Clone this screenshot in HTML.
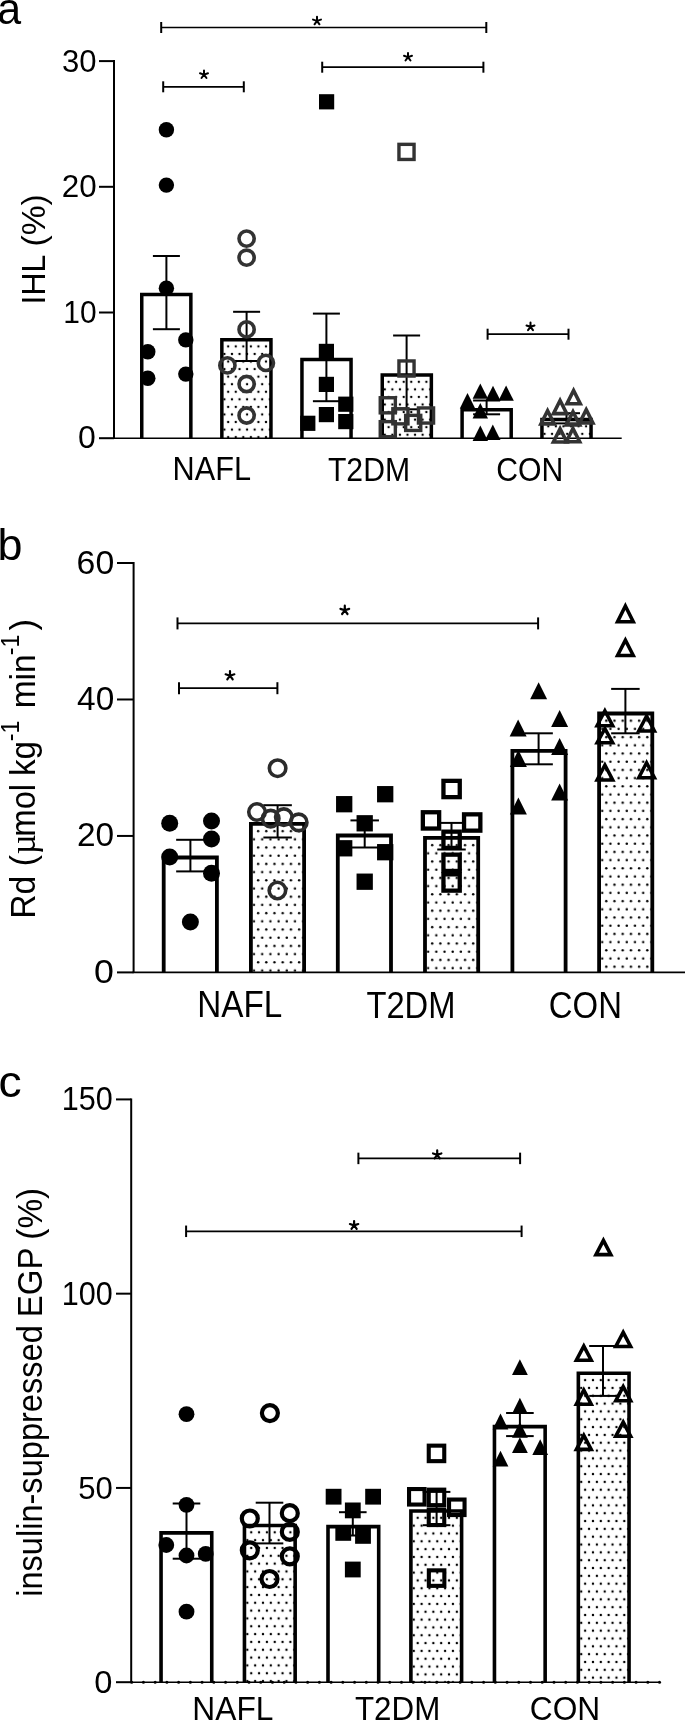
<!DOCTYPE html>
<html><head><meta charset="utf-8"><title>Figure</title>
<style>html,body{margin:0;padding:0;background:#fff;width:685px;height:1722px;overflow:hidden}
text{font-family:'Liberation Sans', sans-serif}</style></head>
<body><svg width="685" height="1722" viewBox="0 0 685 1722" style="display:block;will-change:transform;font-family:'Liberation Sans', sans-serif;fill:#000"><defs><pattern id="p1" patternUnits="userSpaceOnUse" x="226.31" y="342.62" width="7.56" height="15.12"><circle cx="1.89" cy="3.78" r="1.2" fill="#000"/><circle cx="5.67" cy="11.34" r="1.2" fill="#000"/></pattern><pattern id="p2" patternUnits="userSpaceOnUse" x="386.71" y="378.02" width="7.56" height="15.12"><circle cx="1.89" cy="3.78" r="1.2" fill="#000"/><circle cx="5.67" cy="11.34" r="1.2" fill="#000"/></pattern><pattern id="p3" patternUnits="userSpaceOnUse" x="546.41" y="422.52" width="7.56" height="15.12"><circle cx="1.89" cy="3.78" r="1.2" fill="#000"/><circle cx="5.67" cy="11.34" r="1.2" fill="#000"/></pattern><pattern id="p4" patternUnits="userSpaceOnUse" x="256.05" y="827" width="8.2" height="16.4"><circle cx="2.05" cy="4.1" r="1.2" fill="#000"/><circle cx="6.15" cy="12.3" r="1.2" fill="#000"/></pattern><pattern id="p5" patternUnits="userSpaceOnUse" x="430.15" y="841" width="8.2" height="16.4"><circle cx="2.05" cy="4.1" r="1.2" fill="#000"/><circle cx="6.15" cy="12.3" r="1.2" fill="#000"/></pattern><pattern id="p6" patternUnits="userSpaceOnUse" x="604.25" y="716.6" width="8.2" height="16.4"><circle cx="2.05" cy="4.1" r="1.2" fill="#000"/><circle cx="6.15" cy="12.3" r="1.2" fill="#000"/></pattern><pattern id="p7" patternUnits="userSpaceOnUse" x="249.29" y="1528.38" width="7.83" height="15.66"><circle cx="1.96" cy="3.92" r="1.2" fill="#000"/><circle cx="5.87" cy="11.75" r="1.2" fill="#000"/></pattern><pattern id="p8" patternUnits="userSpaceOnUse" x="415.74" y="1513.88" width="7.83" height="15.66"><circle cx="1.96" cy="3.92" r="1.2" fill="#000"/><circle cx="5.87" cy="11.75" r="1.2" fill="#000"/></pattern><pattern id="p9" patternUnits="userSpaceOnUse" x="583.19" y="1376.18" width="7.83" height="15.66"><circle cx="1.96" cy="3.92" r="1.2" fill="#000"/><circle cx="5.87" cy="11.75" r="1.2" fill="#000"/></pattern></defs><line x1="114" y1="60.1" x2="114" y2="438.2" stroke="#000" stroke-width="2"/>
<line x1="113" y1="438.2" x2="621.7" y2="438.2" stroke="#000" stroke-width="1.6"/>
<line x1="99" y1="438.2" x2="114" y2="438.2" stroke="#000" stroke-width="2"/>
<line x1="99" y1="312.5" x2="114" y2="312.5" stroke="#000" stroke-width="2"/>
<line x1="99" y1="186.8" x2="114" y2="186.8" stroke="#000" stroke-width="2"/>
<line x1="99" y1="61.1" x2="114" y2="61.1" stroke="#000" stroke-width="2"/>
<text transform="translate(62.06 72.08) scale(0.9760 1)" font-size="31.83" >30</text>
<text transform="translate(61.73 197.19) scale(1.0034 1)" font-size="31.27" >20</text>
<text transform="translate(63.25 322.89) scale(0.9666 1)" font-size="30.99" >10</text>
<text transform="translate(78.12 448.29) scale(1.0234 1)" font-size="31.27" >0</text>
<path d="M141.75 438.2V294.45H190.85V438.2" fill="none" stroke="#000" stroke-width="3.5" stroke-linejoin="miter" stroke-linecap="butt"/>
<rect x="221.85" y="339.65" width="49.1" height="98.55" fill="url(#p1)"/>
<path d="M221.85 438.2V339.65H270.95V438.2" fill="none" stroke="#000" stroke-width="3.5" stroke-linejoin="miter" stroke-linecap="butt"/>
<path d="M301.95 438.2V359.55H351.05V438.2" fill="none" stroke="#000" stroke-width="3.5" stroke-linejoin="miter" stroke-linecap="butt"/>
<rect x="382.25" y="375.05" width="49.1" height="63.15" fill="url(#p2)"/>
<path d="M382.25 438.2V375.05H431.35V438.2" fill="none" stroke="#000" stroke-width="3.5" stroke-linejoin="miter" stroke-linecap="butt"/>
<path d="M462.1 438.2V409.65H511.2V438.2" fill="none" stroke="#000" stroke-width="3.5" stroke-linejoin="miter" stroke-linecap="butt"/>
<rect x="541.95" y="419.55" width="49.1" height="18.65" fill="url(#p3)"/>
<path d="M541.95 438.2V419.55H591.05V438.2" fill="none" stroke="#000" stroke-width="3.5" stroke-linejoin="miter" stroke-linecap="butt"/>
<line x1="166.4" y1="256" x2="166.4" y2="329.2" stroke="#000" stroke-width="2"/>
<line x1="152.9" y1="256" x2="179.9" y2="256" stroke="#000" stroke-width="2"/>
<line x1="152.9" y1="329.2" x2="179.9" y2="329.2" stroke="#000" stroke-width="2"/>
<line x1="246.6" y1="311.8" x2="246.6" y2="361" stroke="#000" stroke-width="2"/>
<line x1="233.1" y1="311.8" x2="260.1" y2="311.8" stroke="#000" stroke-width="2"/>
<line x1="233.1" y1="361" x2="260.1" y2="361" stroke="#000" stroke-width="2"/>
<line x1="326.4" y1="313.6" x2="326.4" y2="401.2" stroke="#000" stroke-width="2"/>
<line x1="312.9" y1="313.6" x2="339.9" y2="313.6" stroke="#000" stroke-width="2"/>
<line x1="312.9" y1="401.2" x2="339.9" y2="401.2" stroke="#000" stroke-width="2"/>
<line x1="406.6" y1="335.5" x2="406.6" y2="409.3" stroke="#000" stroke-width="2"/>
<line x1="393.1" y1="335.5" x2="420.1" y2="335.5" stroke="#000" stroke-width="2"/>
<line x1="393.1" y1="409.3" x2="420.1" y2="409.3" stroke="#000" stroke-width="2"/>
<line x1="486.6" y1="400.5" x2="486.6" y2="414.3" stroke="#000" stroke-width="2"/>
<line x1="473.1" y1="400.5" x2="500.1" y2="400.5" stroke="#000" stroke-width="2"/>
<line x1="473.1" y1="414.3" x2="500.1" y2="414.3" stroke="#000" stroke-width="2"/>
<line x1="566.5" y1="413.2" x2="566.5" y2="423.4" stroke="#000" stroke-width="2"/>
<line x1="553" y1="413.2" x2="580" y2="413.2" stroke="#000" stroke-width="2"/>
<line x1="553" y1="423.4" x2="580" y2="423.4" stroke="#000" stroke-width="2"/>
<circle cx="166.4" cy="129.8" r="7.7" fill="#000"/>
<circle cx="166.4" cy="185.1" r="7.7" fill="#000"/>
<circle cx="166.4" cy="288.2" r="7.7" fill="#000"/>
<circle cx="185.8" cy="339.9" r="7.7" fill="#000"/>
<circle cx="147.8" cy="351.8" r="7.7" fill="#000"/>
<circle cx="185.8" cy="374.1" r="7.7" fill="#000"/>
<circle cx="147.8" cy="378.3" r="7.7" fill="#000"/>
<circle cx="246.6" cy="238.6" r="7.6" fill="none" stroke="#333" stroke-width="3.6"/>
<circle cx="246.6" cy="257.7" r="7.6" fill="none" stroke="#333" stroke-width="3.6"/>
<circle cx="246.6" cy="329.4" r="7.6" fill="none" stroke="#333" stroke-width="3.6"/>
<circle cx="227.4" cy="365.4" r="7.6" fill="none" stroke="#333" stroke-width="3.6"/>
<circle cx="265.9" cy="362.9" r="7.6" fill="none" stroke="#333" stroke-width="3.6"/>
<circle cx="246.6" cy="384" r="7.6" fill="none" stroke="#333" stroke-width="3.6"/>
<circle cx="246.6" cy="415.5" r="7.6" fill="none" stroke="#333" stroke-width="3.6"/>
<rect x="319" y="94.2" width="15.2" height="15.2" fill="#000"/>
<rect x="318.8" y="343.8" width="15.2" height="15.2" fill="#000"/>
<rect x="318.8" y="376.8" width="15.2" height="15.2" fill="#000"/>
<rect x="338.2" y="396.6" width="15.2" height="15.2" fill="#000"/>
<rect x="318.8" y="407" width="15.2" height="15.2" fill="#000"/>
<rect x="338.2" y="414" width="15.2" height="15.2" fill="#000"/>
<rect x="300.2" y="415.7" width="15.2" height="15.2" fill="#000"/>
<rect x="398.95" y="144.35" width="15.1" height="15.1" fill="none" stroke="#333" stroke-width="3.4"/>
<rect x="398.95" y="360.95" width="15.1" height="15.1" fill="none" stroke="#333" stroke-width="3.4"/>
<rect x="380.25" y="397.75" width="15.1" height="15.1" fill="none" stroke="#333" stroke-width="3.4"/>
<rect x="392.85" y="408.75" width="15.1" height="15.1" fill="none" stroke="#333" stroke-width="3.4"/>
<rect x="405.65" y="415.35" width="15.1" height="15.1" fill="none" stroke="#333" stroke-width="3.4"/>
<rect x="418.45" y="407.95" width="15.1" height="15.1" fill="none" stroke="#333" stroke-width="3.4"/>
<rect x="380.25" y="421.65" width="15.1" height="15.1" fill="none" stroke="#333" stroke-width="3.4"/>
<path d="M480.3 383.4L488 398.8H472.6Z" fill="#000"/>
<path d="M493 385.65L500.7 401.05H485.3Z" fill="#000"/>
<path d="M506.1 385.4L513.8 400.8H498.4Z" fill="#000"/>
<path d="M467.5 393.1L475.2 408.5H459.8Z" fill="#000"/>
<path d="M480.3 403.05L488 418.45H472.6Z" fill="#000"/>
<path d="M480.3 425.5L488 440.9H472.6Z" fill="#000"/>
<path d="M492.8 424.5L500.5 439.9H485.1Z" fill="#000"/>
<path d="M573.6 390.49L580.27 403.7L566.93 403.7Z" fill="none" stroke="#333" stroke-width="3.6" stroke-linejoin="miter" stroke-miterlimit="10"/>
<path d="M560.1 400.44L566.77 413.65L553.43 413.65Z" fill="none" stroke="#333" stroke-width="3.6" stroke-linejoin="miter" stroke-miterlimit="10"/>
<path d="M547.6 410.69L554.27 423.9L540.93 423.9Z" fill="none" stroke="#333" stroke-width="3.6" stroke-linejoin="miter" stroke-miterlimit="10"/>
<path d="M573 411.69L579.67 424.9L566.33 424.9Z" fill="none" stroke="#333" stroke-width="3.6" stroke-linejoin="miter" stroke-miterlimit="10"/>
<path d="M586.2 409.64L592.87 422.85L579.53 422.85Z" fill="none" stroke="#333" stroke-width="3.6" stroke-linejoin="miter" stroke-miterlimit="10"/>
<path d="M560.1 428.79L566.77 442L553.43 442Z" fill="none" stroke="#333" stroke-width="3.6" stroke-linejoin="miter" stroke-miterlimit="10"/>
<path d="M573 428.54L579.67 441.75L566.33 441.75Z" fill="none" stroke="#333" stroke-width="3.6" stroke-linejoin="miter" stroke-miterlimit="10"/>
<line x1="161.2" y1="27.5" x2="486.3" y2="27.5" stroke="#000" stroke-width="1.7"/>
<line x1="161.2" y1="22" x2="161.2" y2="33" stroke="#000" stroke-width="2"/>
<line x1="486.3" y1="22" x2="486.3" y2="33" stroke="#000" stroke-width="2"/>
<path d="M317 20.9L317 16.7M317 20.9L320.99 19.6M317 20.9L319.47 24.3M317 20.9L314.53 24.3M317 20.9L313.01 19.6" stroke="#000" stroke-width="2" stroke-linecap="round" fill="none"/>
<line x1="163.2" y1="86.8" x2="243.8" y2="86.8" stroke="#000" stroke-width="1.7"/>
<line x1="163.2" y1="81.3" x2="163.2" y2="92.3" stroke="#000" stroke-width="2"/>
<line x1="243.8" y1="81.3" x2="243.8" y2="92.3" stroke="#000" stroke-width="2"/>
<path d="M204 74.6L204 70.4M204 74.6L207.99 73.3M204 74.6L206.47 78M204 74.6L201.53 78M204 74.6L200.01 73.3" stroke="#000" stroke-width="2" stroke-linecap="round" fill="none"/>
<line x1="322.2" y1="67.2" x2="483.4" y2="67.2" stroke="#000" stroke-width="1.7"/>
<line x1="322.2" y1="61.7" x2="322.2" y2="72.7" stroke="#000" stroke-width="2"/>
<line x1="483.4" y1="61.7" x2="483.4" y2="72.7" stroke="#000" stroke-width="2"/>
<path d="M408 57.1L408 52.9M408 57.1L411.99 55.8M408 57.1L410.47 60.5M408 57.1L405.53 60.5M408 57.1L404.01 55.8" stroke="#000" stroke-width="2" stroke-linecap="round" fill="none"/>
<line x1="487.6" y1="334.2" x2="568.5" y2="334.2" stroke="#000" stroke-width="1.7"/>
<line x1="487.6" y1="328.7" x2="487.6" y2="339.7" stroke="#000" stroke-width="2"/>
<line x1="568.5" y1="328.7" x2="568.5" y2="339.7" stroke="#000" stroke-width="2"/>
<path d="M530.5 326.8L530.5 322.6M530.5 326.8L534.49 325.5M530.5 326.8L532.97 330.2M530.5 326.8L528.03 330.2M530.5 326.8L526.51 325.5" stroke="#000" stroke-width="2" stroke-linecap="round" fill="none"/>
<text transform="translate(-2.73 23.67) scale(0.9872 1)" font-size="43.5" >a</text>
<text transform="translate(172.54 480) scale(0.9142 1)" font-size="33.6" >NAFL</text>
<text transform="translate(327.9 480.5) scale(0.8985 1)" font-size="33.6" >T2DM</text>
<text transform="translate(496.19 481.06) scale(0.8986 1)" font-size="33.6" >CON</text>
<text transform="translate(45.2 304.38) rotate(-90) scale(0.9520 1)" font-size="33.6" >IHL</text>
<text transform="translate(45.2 246.52) rotate(-90) scale(1.0011 1)" font-size="33.6" >(%)</text>
<line x1="133.6" y1="562.02" x2="133.6" y2="972.4" stroke="#000" stroke-width="2"/>
<line x1="132.6" y1="972.4" x2="685" y2="972.4" stroke="#000" stroke-width="1.6"/>
<line x1="117" y1="972.4" x2="133.6" y2="972.4" stroke="#000" stroke-width="2"/>
<line x1="117" y1="835.94" x2="133.6" y2="835.94" stroke="#000" stroke-width="2"/>
<line x1="117" y1="699.48" x2="133.6" y2="699.48" stroke="#000" stroke-width="2"/>
<line x1="117" y1="563.02" x2="133.6" y2="563.02" stroke="#000" stroke-width="2"/>
<text transform="translate(76.61 573.76) scale(1.0090 1)" font-size="33.52" >60</text>
<text transform="translate(77.07 710.27) scale(1.0133 1)" font-size="32.96" >40</text>
<text transform="translate(76.93 846.27) scale(1.0144 1)" font-size="32.96" >20</text>
<text transform="translate(94.07 983.27) scale(1.0767 1)" font-size="33.24" >0</text>
<path d="M163.7 972.4V857.5H216.9V972.4" fill="none" stroke="#000" stroke-width="3.8" stroke-linejoin="miter" stroke-linecap="butt"/>
<rect x="250.9" y="823.9" width="53.2" height="148.5" fill="url(#p4)"/>
<path d="M250.9 972.4V823.9H304.1V972.4" fill="none" stroke="#000" stroke-width="3.8" stroke-linejoin="miter" stroke-linecap="butt"/>
<path d="M337.8 972.4V835.5H391V972.4" fill="none" stroke="#000" stroke-width="3.8" stroke-linejoin="miter" stroke-linecap="butt"/>
<rect x="425" y="837.9" width="53.2" height="134.5" fill="url(#p5)"/>
<path d="M425 972.4V837.9H478.2V972.4" fill="none" stroke="#000" stroke-width="3.8" stroke-linejoin="miter" stroke-linecap="butt"/>
<path d="M512.4 972.4V750.9H565.6V972.4" fill="none" stroke="#000" stroke-width="3.8" stroke-linejoin="miter" stroke-linecap="butt"/>
<rect x="599.1" y="713.5" width="53.2" height="258.9" fill="url(#p6)"/>
<path d="M599.1 972.4V713.5H652.3V972.4" fill="none" stroke="#000" stroke-width="3.8" stroke-linejoin="miter" stroke-linecap="butt"/>
<line x1="190.4" y1="839.8" x2="190.4" y2="871.4" stroke="#000" stroke-width="2"/>
<line x1="176.15" y1="839.8" x2="204.65" y2="839.8" stroke="#000" stroke-width="2"/>
<line x1="176.15" y1="871.4" x2="204.65" y2="871.4" stroke="#000" stroke-width="2"/>
<line x1="277.6" y1="805.2" x2="277.6" y2="837.5" stroke="#000" stroke-width="2"/>
<line x1="263.35" y1="805.2" x2="291.85" y2="805.2" stroke="#000" stroke-width="2"/>
<line x1="263.35" y1="837.5" x2="291.85" y2="837.5" stroke="#000" stroke-width="2"/>
<line x1="364.7" y1="820.4" x2="364.7" y2="847.5" stroke="#000" stroke-width="2"/>
<line x1="350.45" y1="820.4" x2="378.95" y2="820.4" stroke="#000" stroke-width="2"/>
<line x1="350.45" y1="847.5" x2="378.95" y2="847.5" stroke="#000" stroke-width="2"/>
<line x1="451.5" y1="822.9" x2="451.5" y2="849.5" stroke="#000" stroke-width="2"/>
<line x1="437.25" y1="822.9" x2="465.75" y2="822.9" stroke="#000" stroke-width="2"/>
<line x1="437.25" y1="849.5" x2="465.75" y2="849.5" stroke="#000" stroke-width="2"/>
<line x1="538.6" y1="733.3" x2="538.6" y2="764.3" stroke="#000" stroke-width="2"/>
<line x1="524.35" y1="733.3" x2="552.85" y2="733.3" stroke="#000" stroke-width="2"/>
<line x1="524.35" y1="764.3" x2="552.85" y2="764.3" stroke="#000" stroke-width="2"/>
<line x1="625.4" y1="688.9" x2="625.4" y2="733.3" stroke="#000" stroke-width="2"/>
<line x1="611.15" y1="688.9" x2="639.65" y2="688.9" stroke="#000" stroke-width="2"/>
<line x1="611.15" y1="733.3" x2="639.65" y2="733.3" stroke="#000" stroke-width="2"/>
<circle cx="169.7" cy="823.3" r="8.5" fill="#000"/>
<circle cx="211.5" cy="820.9" r="8.5" fill="#000"/>
<circle cx="211.5" cy="839" r="8.5" fill="#000"/>
<circle cx="169.7" cy="856.9" r="8.5" fill="#000"/>
<circle cx="211.5" cy="873.2" r="8.5" fill="#000"/>
<circle cx="190.4" cy="922.1" r="8.5" fill="#000"/>
<circle cx="277.6" cy="768.2" r="8.25" fill="none" stroke="#2b2b2b" stroke-width="3.6"/>
<circle cx="257" cy="812" r="8.25" fill="none" stroke="#2b2b2b" stroke-width="3.6"/>
<circle cx="270.7" cy="818.6" r="8.25" fill="none" stroke="#2b2b2b" stroke-width="3.6"/>
<circle cx="283.8" cy="817.1" r="8.25" fill="none" stroke="#2b2b2b" stroke-width="3.6"/>
<circle cx="298.7" cy="822.4" r="8.25" fill="none" stroke="#2b2b2b" stroke-width="3.6"/>
<circle cx="277.4" cy="890.5" r="8.25" fill="none" stroke="#2b2b2b" stroke-width="3.6"/>
<rect x="336.05" y="796.05" width="16.3" height="16.3" fill="#000"/>
<rect x="377.05" y="786.05" width="16.3" height="16.3" fill="#000"/>
<rect x="356.55" y="815.15" width="16.3" height="16.3" fill="#000"/>
<rect x="336.05" y="840.15" width="16.3" height="16.3" fill="#000"/>
<rect x="377.05" y="844.05" width="16.3" height="16.3" fill="#000"/>
<rect x="356.55" y="873.55" width="16.3" height="16.3" fill="#000"/>
<rect x="443.45" y="780.85" width="16.3" height="16.3" fill="none" stroke="#000" stroke-width="4.3"/>
<rect x="422.85" y="812.25" width="16.3" height="16.3" fill="none" stroke="#000" stroke-width="4.3"/>
<rect x="464.05" y="814.35" width="16.3" height="16.3" fill="none" stroke="#000" stroke-width="4.3"/>
<rect x="443.45" y="831.65" width="16.3" height="16.3" fill="none" stroke="#000" stroke-width="4.3"/>
<rect x="443.45" y="854.65" width="16.3" height="16.3" fill="none" stroke="#000" stroke-width="4.3"/>
<rect x="443.45" y="874.35" width="16.3" height="16.3" fill="none" stroke="#000" stroke-width="4.3"/>
<path d="M538.6 682.25L547.1 699.25H530.1Z" fill="#000"/>
<path d="M559.6 710.1L568.1 727.1H551.1Z" fill="#000"/>
<path d="M518.1 719.4L526.6 736.4H509.6Z" fill="#000"/>
<path d="M559.6 738.05L568.1 755.05H551.1Z" fill="#000"/>
<path d="M518.4 749.9L526.9 766.9H509.9Z" fill="#000"/>
<path d="M559.6 783.4L568.1 800.4H551.1Z" fill="#000"/>
<path d="M518.4 797.6L526.9 814.6H509.9Z" fill="#000"/>
<path d="M625.4 605.93L633.32 621.85L617.48 621.85Z" fill="none" stroke="#000" stroke-width="3.5" stroke-linejoin="miter" stroke-miterlimit="10"/>
<path d="M625.4 640.14L633.29 655.55L617.51 655.55Z" fill="none" stroke="#000" stroke-width="3.5" stroke-linejoin="miter" stroke-miterlimit="10"/>
<path d="M604.9 710.75L612.75 725.65L597.05 725.65Z" fill="none" stroke="#000" stroke-width="3.5" stroke-linejoin="miter" stroke-miterlimit="10"/>
<path d="M646.6 715.97L654.46 730.95L638.74 730.95Z" fill="none" stroke="#000" stroke-width="3.5" stroke-linejoin="miter" stroke-miterlimit="10"/>
<path d="M604.9 728.7L612.67 742.65L597.13 742.65Z" fill="none" stroke="#000" stroke-width="3.5" stroke-linejoin="miter" stroke-miterlimit="10"/>
<path d="M604.9 765.07L612.76 780.05L597.04 780.05Z" fill="none" stroke="#000" stroke-width="3.5" stroke-linejoin="miter" stroke-miterlimit="10"/>
<path d="M646.6 762.75L654.45 777.65L638.75 777.65Z" fill="none" stroke="#000" stroke-width="3.5" stroke-linejoin="miter" stroke-miterlimit="10"/>
<line x1="177.5" y1="623.4" x2="538.1" y2="623.4" stroke="#000" stroke-width="1.7"/>
<line x1="177.5" y1="617.4" x2="177.5" y2="629.4" stroke="#000" stroke-width="2"/>
<line x1="538.1" y1="617.4" x2="538.1" y2="629.4" stroke="#000" stroke-width="2"/>
<path d="M344.8 610.3L344.8 605.7M344.8 610.3L349.17 608.88M344.8 610.3L347.5 614.02M344.8 610.3L342.1 614.02M344.8 610.3L340.43 608.88" stroke="#000" stroke-width="2.2" stroke-linecap="round" fill="none"/>
<line x1="179" y1="688.2" x2="277.4" y2="688.2" stroke="#000" stroke-width="1.7"/>
<line x1="179" y1="682.2" x2="179" y2="694.2" stroke="#000" stroke-width="2"/>
<line x1="277.4" y1="682.2" x2="277.4" y2="694.2" stroke="#000" stroke-width="2"/>
<path d="M230 675.7L230 671.1M230 675.7L234.37 674.28M230 675.7L232.7 679.42M230 675.7L227.3 679.42M230 675.7L225.63 674.28" stroke="#000" stroke-width="2.2" stroke-linecap="round" fill="none"/>
<text transform="translate(-2.52 560.36) scale(1.0246 1)" font-size="43.81" >b</text>
<text transform="translate(197.34 1017.3) scale(0.9085 1)" font-size="36.6" >NAFL</text>
<text transform="translate(366.45 1017.9) scale(0.8937 1)" font-size="36.6" >T2DM</text>
<text transform="translate(548.85 1018.13) scale(0.8994 1)" font-size="36.6" >CON</text>
<text transform="translate(35.2 918.8) rotate(-90) scale(0.9367 1)" font-size="36" >Rd (</text>
<text transform="translate(35.2 854.14) rotate(-90) scale(0.9601 1)" font-size="36"  font-family="Liberation Serif" style="font-family:'Liberation Serif',serif">µ</text>
<text transform="translate(35.2 836.63) rotate(-90) scale(0.9103 1)" font-size="36" >mol</text>
<text transform="translate(35.2 776.06) rotate(-90) scale(0.9249 1)" font-size="36" >kg</text>
<text transform="translate(19.4 741.15) rotate(-90) scale(0.8781 1)" font-size="26.5" >-1</text>
<text transform="translate(35.2 708.27) rotate(-90) scale(0.9291 1)" font-size="36" >min</text>
<text transform="translate(19.4 655.35) rotate(-90) scale(0.8781 1)" font-size="26.5" >-1</text>
<text transform="translate(35.2 630.55) rotate(-90) scale(0.9615 1)" font-size="36" >)</text>
<line x1="131.2" y1="1098.41" x2="131.2" y2="1682.2" stroke="#000" stroke-width="2"/>
<line x1="130.2" y1="1682.2" x2="660" y2="1682.2" stroke="#000" stroke-width="1.5"/>
<circle cx="131.7" cy="1682.2" r="1.5" fill="#000"/>
<circle cx="143.43" cy="1682.2" r="1.5" fill="#000"/>
<circle cx="155.16" cy="1682.2" r="1.5" fill="#000"/>
<circle cx="166.89" cy="1682.2" r="1.5" fill="#000"/>
<circle cx="178.62" cy="1682.2" r="1.5" fill="#000"/>
<circle cx="190.35" cy="1682.2" r="1.5" fill="#000"/>
<circle cx="202.08" cy="1682.2" r="1.5" fill="#000"/>
<circle cx="213.81" cy="1682.2" r="1.5" fill="#000"/>
<circle cx="225.54" cy="1682.2" r="1.5" fill="#000"/>
<circle cx="237.27" cy="1682.2" r="1.5" fill="#000"/>
<circle cx="249" cy="1682.2" r="1.5" fill="#000"/>
<circle cx="260.73" cy="1682.2" r="1.5" fill="#000"/>
<circle cx="272.46" cy="1682.2" r="1.5" fill="#000"/>
<circle cx="284.19" cy="1682.2" r="1.5" fill="#000"/>
<circle cx="295.92" cy="1682.2" r="1.5" fill="#000"/>
<circle cx="307.65" cy="1682.2" r="1.5" fill="#000"/>
<circle cx="319.38" cy="1682.2" r="1.5" fill="#000"/>
<circle cx="331.11" cy="1682.2" r="1.5" fill="#000"/>
<circle cx="342.84" cy="1682.2" r="1.5" fill="#000"/>
<circle cx="354.57" cy="1682.2" r="1.5" fill="#000"/>
<circle cx="366.3" cy="1682.2" r="1.5" fill="#000"/>
<circle cx="378.03" cy="1682.2" r="1.5" fill="#000"/>
<circle cx="389.76" cy="1682.2" r="1.5" fill="#000"/>
<circle cx="401.49" cy="1682.2" r="1.5" fill="#000"/>
<circle cx="413.22" cy="1682.2" r="1.5" fill="#000"/>
<circle cx="424.95" cy="1682.2" r="1.5" fill="#000"/>
<circle cx="436.68" cy="1682.2" r="1.5" fill="#000"/>
<circle cx="448.41" cy="1682.2" r="1.5" fill="#000"/>
<circle cx="460.14" cy="1682.2" r="1.5" fill="#000"/>
<circle cx="471.87" cy="1682.2" r="1.5" fill="#000"/>
<circle cx="483.6" cy="1682.2" r="1.5" fill="#000"/>
<circle cx="495.33" cy="1682.2" r="1.5" fill="#000"/>
<circle cx="507.06" cy="1682.2" r="1.5" fill="#000"/>
<circle cx="518.79" cy="1682.2" r="1.5" fill="#000"/>
<circle cx="530.52" cy="1682.2" r="1.5" fill="#000"/>
<circle cx="542.25" cy="1682.2" r="1.5" fill="#000"/>
<circle cx="553.98" cy="1682.2" r="1.5" fill="#000"/>
<circle cx="565.71" cy="1682.2" r="1.5" fill="#000"/>
<circle cx="577.44" cy="1682.2" r="1.5" fill="#000"/>
<circle cx="589.17" cy="1682.2" r="1.5" fill="#000"/>
<circle cx="600.9" cy="1682.2" r="1.5" fill="#000"/>
<circle cx="612.63" cy="1682.2" r="1.5" fill="#000"/>
<circle cx="624.36" cy="1682.2" r="1.5" fill="#000"/>
<circle cx="636.09" cy="1682.2" r="1.5" fill="#000"/>
<circle cx="647.82" cy="1682.2" r="1.5" fill="#000"/>
<circle cx="659.55" cy="1682.2" r="1.5" fill="#000"/>
<line x1="116" y1="1682.2" x2="131.2" y2="1682.2" stroke="#000" stroke-width="2"/>
<line x1="116" y1="1487.93" x2="131.2" y2="1487.93" stroke="#000" stroke-width="2"/>
<line x1="116" y1="1293.67" x2="131.2" y2="1293.67" stroke="#000" stroke-width="2"/>
<line x1="116" y1="1099.41" x2="131.2" y2="1099.41" stroke="#000" stroke-width="2"/>
<text transform="translate(61.81 1110.37) scale(0.9399 1)" font-size="32.54" >150</text>
<text transform="translate(61.81 1305.17) scale(0.9319 1)" font-size="32.82" >100</text>
<text transform="translate(78.16 1498.68) scale(0.9675 1)" font-size="32.11" >50</text>
<text transform="translate(94.19 1692.88) scale(1.0297 1)" font-size="31.69" >0</text>
<path d="M161.05 1682.2V1532.9H211.75V1682.2" fill="none" stroke="#000" stroke-width="3.6" stroke-linejoin="miter" stroke-linecap="butt"/>
<rect x="244.45" y="1525.5" width="50.7" height="156.7" fill="url(#p7)"/>
<path d="M244.45 1682.2V1525.5H295.15V1682.2" fill="none" stroke="#000" stroke-width="3.6" stroke-linejoin="miter" stroke-linecap="butt"/>
<path d="M328 1682.2V1526.6H378.7V1682.2" fill="none" stroke="#000" stroke-width="3.6" stroke-linejoin="miter" stroke-linecap="butt"/>
<rect x="410.9" y="1511" width="50.7" height="171.2" fill="url(#p8)"/>
<path d="M410.9 1682.2V1511H461.6V1682.2" fill="none" stroke="#000" stroke-width="3.6" stroke-linejoin="miter" stroke-linecap="butt"/>
<path d="M494.45 1682.2V1426.6H545.15V1682.2" fill="none" stroke="#000" stroke-width="3.6" stroke-linejoin="miter" stroke-linecap="butt"/>
<rect x="578.35" y="1373.3" width="50.7" height="308.9" fill="url(#p9)"/>
<path d="M578.35 1682.2V1373.3H629.05V1682.2" fill="none" stroke="#000" stroke-width="3.6" stroke-linejoin="miter" stroke-linecap="butt"/>
<line x1="186.5" y1="1503.5" x2="186.5" y2="1558.7" stroke="#000" stroke-width="2"/>
<line x1="172.7" y1="1503.5" x2="200.3" y2="1503.5" stroke="#000" stroke-width="2"/>
<line x1="172.7" y1="1558.7" x2="200.3" y2="1558.7" stroke="#000" stroke-width="2"/>
<line x1="269.5" y1="1502.7" x2="269.5" y2="1543.4" stroke="#000" stroke-width="2"/>
<line x1="255.7" y1="1502.7" x2="283.3" y2="1502.7" stroke="#000" stroke-width="2"/>
<line x1="255.7" y1="1543.4" x2="283.3" y2="1543.4" stroke="#000" stroke-width="2"/>
<line x1="352.8" y1="1512.2" x2="352.8" y2="1535.5" stroke="#000" stroke-width="2"/>
<line x1="339" y1="1512.2" x2="366.6" y2="1512.2" stroke="#000" stroke-width="2"/>
<line x1="339" y1="1535.5" x2="366.6" y2="1535.5" stroke="#000" stroke-width="2"/>
<line x1="436.6" y1="1491.9" x2="436.6" y2="1525.2" stroke="#000" stroke-width="2"/>
<line x1="422.8" y1="1491.9" x2="450.4" y2="1491.9" stroke="#000" stroke-width="2"/>
<line x1="422.8" y1="1525.2" x2="450.4" y2="1525.2" stroke="#000" stroke-width="2"/>
<line x1="519.9" y1="1413" x2="519.9" y2="1436.1" stroke="#000" stroke-width="2"/>
<line x1="506.1" y1="1413" x2="533.7" y2="1413" stroke="#000" stroke-width="2"/>
<line x1="506.1" y1="1436.1" x2="533.7" y2="1436.1" stroke="#000" stroke-width="2"/>
<line x1="603" y1="1346" x2="603" y2="1395.9" stroke="#000" stroke-width="2"/>
<line x1="589.2" y1="1346" x2="616.8" y2="1346" stroke="#000" stroke-width="2"/>
<line x1="589.2" y1="1395.9" x2="616.8" y2="1395.9" stroke="#000" stroke-width="2"/>
<circle cx="186.5" cy="1414.2" r="7.9" fill="#000"/>
<circle cx="186.5" cy="1504.8" r="7.9" fill="#000"/>
<circle cx="166.3" cy="1545" r="7.9" fill="#000"/>
<circle cx="186.5" cy="1555.5" r="7.9" fill="#000"/>
<circle cx="205.7" cy="1553.9" r="7.9" fill="#000"/>
<circle cx="186.5" cy="1611.7" r="7.9" fill="#000"/>
<circle cx="269.9" cy="1413.1" r="8" fill="none" stroke="#000" stroke-width="4.2"/>
<circle cx="249.8" cy="1518.5" r="8" fill="none" stroke="#000" stroke-width="4.2"/>
<circle cx="289.8" cy="1513.2" r="8" fill="none" stroke="#000" stroke-width="4.2"/>
<circle cx="289.8" cy="1531.9" r="8" fill="none" stroke="#000" stroke-width="4.2"/>
<circle cx="249.8" cy="1550.3" r="8" fill="none" stroke="#000" stroke-width="4.2"/>
<circle cx="289.8" cy="1556.3" r="8" fill="none" stroke="#000" stroke-width="4.2"/>
<circle cx="269.5" cy="1579" r="8" fill="none" stroke="#000" stroke-width="4.2"/>
<rect x="325.7" y="1488.8" width="15.8" height="15.8" fill="#000"/>
<rect x="365.2" y="1488.8" width="15.8" height="15.8" fill="#000"/>
<rect x="344.9" y="1502.5" width="15.8" height="15.8" fill="#000"/>
<rect x="335.35" y="1525" width="15.8" height="15.8" fill="#000"/>
<rect x="355.1" y="1528" width="15.8" height="15.8" fill="#000"/>
<rect x="344.9" y="1561.6" width="15.8" height="15.8" fill="#000"/>
<rect x="428.75" y="1445.65" width="15.5" height="15.5" fill="none" stroke="#000" stroke-width="4.1"/>
<rect x="409.05" y="1489.05" width="15.5" height="15.5" fill="none" stroke="#000" stroke-width="4.1"/>
<rect x="428.75" y="1489.65" width="15.5" height="15.5" fill="none" stroke="#000" stroke-width="4.1"/>
<rect x="449.05" y="1499.55" width="15.5" height="15.5" fill="none" stroke="#000" stroke-width="4.1"/>
<rect x="428.75" y="1509.55" width="15.5" height="15.5" fill="none" stroke="#000" stroke-width="4.1"/>
<rect x="428.85" y="1570.35" width="15.5" height="15.5" fill="none" stroke="#000" stroke-width="4.1"/>
<path d="M519.9 1359.25L527.8 1375.05H512Z" fill="#000"/>
<path d="M519.9 1397.85L527.8 1413.65H512Z" fill="#000"/>
<path d="M500.5 1413.6L508.4 1429.4H492.6Z" fill="#000"/>
<path d="M519.9 1421.9L527.8 1437.7H512Z" fill="#000"/>
<path d="M519.9 1437.25L527.8 1453.05H512Z" fill="#000"/>
<path d="M540.2 1439.2L548.1 1455H532.3Z" fill="#000"/>
<path d="M500.5 1450.65L508.4 1466.45H492.6Z" fill="#000"/>
<path d="M603.4 1240.3L610.84 1254.6L595.96 1254.6Z" fill="none" stroke="#000" stroke-width="3.6" stroke-linejoin="miter" stroke-miterlimit="10"/>
<path d="M623.2 1332.37L630.62 1346.5L615.78 1346.5Z" fill="none" stroke="#000" stroke-width="3.6" stroke-linejoin="miter" stroke-miterlimit="10"/>
<path d="M583.8 1346.07L591.22 1360.2L576.38 1360.2Z" fill="none" stroke="#000" stroke-width="3.6" stroke-linejoin="miter" stroke-miterlimit="10"/>
<path d="M623.2 1386.66L630.61 1400.7L615.79 1400.7Z" fill="none" stroke="#000" stroke-width="3.6" stroke-linejoin="miter" stroke-miterlimit="10"/>
<path d="M583.8 1390.07L591.22 1404.2L576.38 1404.2Z" fill="none" stroke="#000" stroke-width="3.6" stroke-linejoin="miter" stroke-miterlimit="10"/>
<path d="M623.2 1422.07L630.62 1436.2L615.78 1436.2Z" fill="none" stroke="#000" stroke-width="3.6" stroke-linejoin="miter" stroke-miterlimit="10"/>
<path d="M583.8 1435.36L591.21 1449.4L576.39 1449.4Z" fill="none" stroke="#000" stroke-width="3.6" stroke-linejoin="miter" stroke-miterlimit="10"/>
<line x1="358.4" y1="1158.4" x2="520.1" y2="1158.4" stroke="#000" stroke-width="1.7"/>
<line x1="358.4" y1="1152.65" x2="358.4" y2="1164.15" stroke="#000" stroke-width="2"/>
<line x1="520.1" y1="1152.65" x2="520.1" y2="1164.15" stroke="#000" stroke-width="2"/>
<path d="M437.2 1154.8L437.2 1150.4M437.2 1154.8L441.38 1153.44M437.2 1154.8L439.79 1158.36M437.2 1154.8L434.61 1158.36M437.2 1154.8L433.02 1153.44" stroke="#000" stroke-width="2.2" stroke-linecap="round" fill="none"/>
<line x1="186.1" y1="1231.3" x2="521.6" y2="1231.3" stroke="#000" stroke-width="1.7"/>
<line x1="186.1" y1="1225.55" x2="186.1" y2="1237.05" stroke="#000" stroke-width="2"/>
<line x1="521.6" y1="1225.55" x2="521.6" y2="1237.05" stroke="#000" stroke-width="2"/>
<path d="M354.1 1225.4L354.1 1221M354.1 1225.4L358.28 1224.04M354.1 1225.4L356.69 1228.96M354.1 1225.4L351.51 1228.96M354.1 1225.4L349.92 1224.04" stroke="#000" stroke-width="2.2" stroke-linecap="round" fill="none"/>
<text transform="translate(-1.58 1096.57) scale(1.0639 1)" font-size="43.5" >c</text>
<text transform="translate(192.36 1719.7) scale(0.9446 1)" font-size="33.6" >NAFL</text>
<text transform="translate(354.97 1720.2) scale(0.9326 1)" font-size="33.6" >T2DM</text>
<text transform="translate(529.81 1720.16) scale(0.9441 1)" font-size="33.6" >CON</text>
<text transform="translate(41.9 1596.82) rotate(-90) scale(0.9177 1)" font-size="35.5" >insulin-suppressed</text>
<text transform="translate(41.9 1317.24) rotate(-90) scale(0.9304 1)" font-size="35.5" >EGP</text>
<text transform="translate(41.9 1239.7) rotate(-90) scale(0.9396 1)" font-size="35.5" >(%)</text></svg></body></html>
